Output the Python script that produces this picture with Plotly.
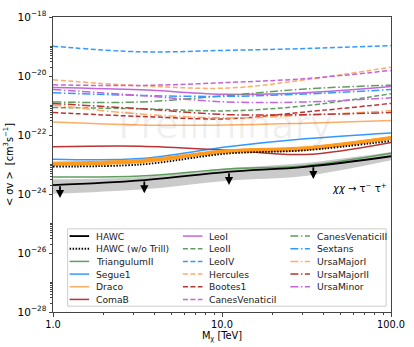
import numpy as np
import plotly.graph_objects as go

# dark matter mass [TeV]
mass = [1.0, 3.3, 10.8, 31.0, 100.0]

# log10(<sigma v>) limits, tau tau channel
hawc = [-23.70, -23.54, -23.25, -23.08, -22.72]
hawc_lo = [-23.99, -23.85, -23.55, -23.39, -22.86]
hawc_hi = [-23.50, -23.42, -23.13, -22.95, -22.58]
hawc_notrill = [-23.07, -23.00, -22.63, -22.52, -22.20]
combo_lo = [-23.05, -22.96, -22.62, -22.53, -22.16]
combo_hi = [-22.92, -22.83, -22.50, -22.40, -22.05]

triangulumII = [-23.42, -23.39, -23.15, -23.04, -22.62]
segue1 = [-22.82, -22.80, -22.40, -22.13, -21.93]
draco = [-21.56, -21.66, -21.66, -21.60, -21.51]
comaB = [-22.40, -22.38, -22.52, -22.66, -22.25]
leoI = [-20.39, -20.47, -20.62, -20.57, -20.36]
leoII = [-21.07, -21.11, -21.18, -21.01, -20.60]
leoIV = [-18.99, -19.18, -19.13, -19.07, -18.97]
hercules = [-20.13, -20.33, -20.41, -20.13, -19.70]
bootes1 = [-21.24, -21.37, -21.45, -21.22, -20.93]
canesVenaticiI = [-20.30, -20.32, -20.22, -20.09, -19.81]
canesVenaticiII = [-20.88, -20.88, -20.66, -20.44, -20.31]
sextans = [-20.57, -20.66, -20.69, -20.61, -20.46]
ursaMajorI = [-20.98, -21.29, -21.42, -21.33, -21.18]
ursaMajorII = [-20.93, -21.11, -21.31, -21.31, -21.24]
ursaMinor = [-20.46, -20.66, -20.88, -20.88, -20.74]

arrow_mass = [1.1, 3.47, 11.0, 34.7]

y_ticks = [-28, -26, -24, -22, -20, -18]

GREEN = '#5f9e5f'
BLUE = '#3399ff'
ORANGE = '#ffac66'
RED = '#bb3333'
PURPLE = '#c266d9'

DASH = '5px,2.5px'
DASHDOT = '8px,2.5px,1.5px,2.5px'
DOT = '1.5px,1.5px'

dwarfs = [
    ('TriangulumII', triangulumII, GREEN, 'solid'),
    ('Segue1', segue1, BLUE, 'solid'),
    ('Draco', draco, ORANGE, 'solid'),
    ('ComaB', comaB, RED, 'solid'),
    ('LeoI', leoI, PURPLE, 'solid'),
    ('LeoII', leoII, GREEN, DASH),
    ('LeoIV', leoIV, BLUE, DASH),
    ('Hercules', hercules, ORANGE, DASH),
    ('Bootes1', bootes1, RED, DASH),
    ('CanesVenaticiI', canesVenaticiI, PURPLE, DASH),
    ('CanesVenaticiII', canesVenaticiII, GREEN, DASHDOT),
    ('Sextans', sextans, BLUE, DASHDOT),
    ('UrsaMajorI', ursaMajorI, ORANGE, DASHDOT),
    ('UrsaMajorII', ursaMajorII, RED, DASHDOT),
    ('UrsaMinor', ursaMinor, PURPLE, DASHDOT),
]


def p(v):
    return 10 ** np.array(v)


fig = go.Figure()

# gray band around HAWC
fig.add_trace(go.Scatter(x=mass, y=p(hawc_lo), mode='lines', line=dict(width=0, shape='spline'),
                         showlegend=False, hoverinfo='skip'))
fig.add_trace(go.Scatter(x=mass, y=p(hawc_hi), mode='lines', line=dict(width=0, shape='spline'),
                         fill='tonexty', fillcolor='rgba(180,180,180,0.7)', showlegend=False, hoverinfo='skip'))

for name, vals, col, dash in dwarfs:
    fig.add_trace(go.Scatter(x=mass, y=p(vals), mode='lines', name=name, showlegend=False,
                             line=dict(color=col, dash=dash, width=1.5, shape='spline')))

# thick orange band
fig.add_trace(go.Scatter(x=mass, y=p(combo_lo), mode='lines', line=dict(width=0, shape='spline', color='#ff9a1a'),
                         showlegend=False, hoverinfo='skip'))
fig.add_trace(go.Scatter(x=mass, y=p(combo_hi), mode='lines', line=dict(width=1, shape='spline', color='#ff9a1a'),
                         fill='tonexty', fillcolor='#ff9a1a', showlegend=False, hoverinfo='skip'))

fig.add_trace(go.Scatter(x=mass, y=p(hawc), mode='lines', name='HAWC', showlegend=False,
                         line=dict(color='black', width=1.8, shape='spline')))
fig.add_trace(go.Scatter(x=mass, y=p(hawc_notrill), mode='lines', name='HAWC (w/o Trill)', showlegend=False,
                         line=dict(color='black', width=1.8, dash=DOT, shape='spline')))

# upper-limit arrows hanging from the HAWC curve
for m in arrow_mass:
    top = np.interp(np.log10(m), np.log10(mass), hawc)
    fig.add_annotation(x=np.log10(m), y=top - 0.45, ax=np.log10(m), ay=top, xref='x', yref='y',
                       axref='x', ayref='y', showarrow=True, arrowhead=2, arrowsize=0.9,
                       arrowwidth=1.8, arrowcolor='black', text='')

fig.add_annotation(text='Preliminary', x=0.51, y=0.635, xref='paper', yref='paper', showarrow=False,
                   font=dict(size=38, color='rgba(0,0,0,0.06)', family='DejaVu Sans'))
fig.add_annotation(text='<i>χχ</i> → τ<sup>−</sup> τ<sup>+</sup>', x=0.995, y=0.42, xref='paper', yref='paper',
                   xanchor='right', showarrow=False, font=dict(size=10, color='black', family='DejaVu Sans'))

# legend drawn by hand: 3 columns, column-major like the original
W, H, L, T = 346.0, 305.0, 50.0, 9.0


def px(x):
    return (x - L) / W


def py(y):
    return (T + H - y) / H


fig.add_shape(type='rect', xref='paper', yref='paper', x0=px(65), x1=px(391), y0=py(308), y1=py(228),
              line=dict(color='#cccccc', width=1), fillcolor='rgba(255,255,255,0.85)', layer='above')

legend_items = [('HAWC', 'black', 'solid'), ('HAWC (w/o Trill)', 'black', DOT)] + \
    [(n, c, d) for n, _, c, d in dwarfs]
col_x = [67, 183, 293]
for i, (name, col, dash) in enumerate(legend_items):
    c, r = divmod(i, 6)
    yy = py(235.5 + 13.1 * r)
    x0 = col_x[c]
    fig.add_shape(type='line', xref='paper', yref='paper', x0=px(x0), x1=px(x0 + 20), y0=yy, y1=yy,
                  line=dict(color=col, dash=dash, width=1.8 if col == 'black' else 1.5), layer='above')
    fig.add_annotation(text=name, x=px(x0 + 25), y=yy, xref='paper', yref='paper', xanchor='left',
                       yanchor='middle', showarrow=False, font=dict(size=9.2, color='#222'))

fig.update_layout(
    width=414, height=347,
    margin=dict(l=50, r=18, t=9, b=33),
    paper_bgcolor='white', plot_bgcolor='white',
    font=dict(family='DejaVu Sans', size=10, color='black'),
    showlegend=False,
)

minor_y = []
for e in range(-28, -18):
    if e % 2:
        minor_y.append(10.0 ** e)
    else:
        minor_y += [k * 10.0 ** e for k in range(2, 10)]

fig.update_xaxes(type='log', range=[0, 2], tickvals=[1, 10, 100], ticktext=['1.0', '10.0', '100.0'],
                 showgrid=False, showline=True, mirror=True, linecolor='#444', linewidth=1,
                 ticks='outside', ticklen=3.5, tickcolor='#444', tickfont=dict(size=9.8),
                 minor=dict(ticks='outside', ticklen=2, tickcolor='#444',
                            tickvals=[k * 10 ** e for e in range(2) for k in range(2, 10)]),
                 title=dict(text='M<sub>χ</sub> [TeV]', font=dict(size=9.8), standoff=1))
fig.update_yaxes(type='log', range=[-28, -18], tickvals=[10.0 ** e for e in y_ticks],
                 ticktext=['10<sup>−%d</sup>' % -e for e in y_ticks],
                 showgrid=False, showline=True, mirror=True, linecolor='#444', linewidth=1,
                 ticks='outside', ticklen=3.5, tickcolor='#444', tickfont=dict(size=10.5),
                 minor=dict(ticks='outside', ticklen=2, tickcolor='#444', tickvals=minor_y),
                 title=dict(text='< σv >  [cm<sup>3</sup>s<sup>−1</sup>]', font=dict(size=9.8), standoff=2))

# the page body has a default 8px margin; drop it so the figure fills the window
fig.write_html('out.html', config={'displayModeBar': False},
               post_script="document.body.style.margin='0';")
